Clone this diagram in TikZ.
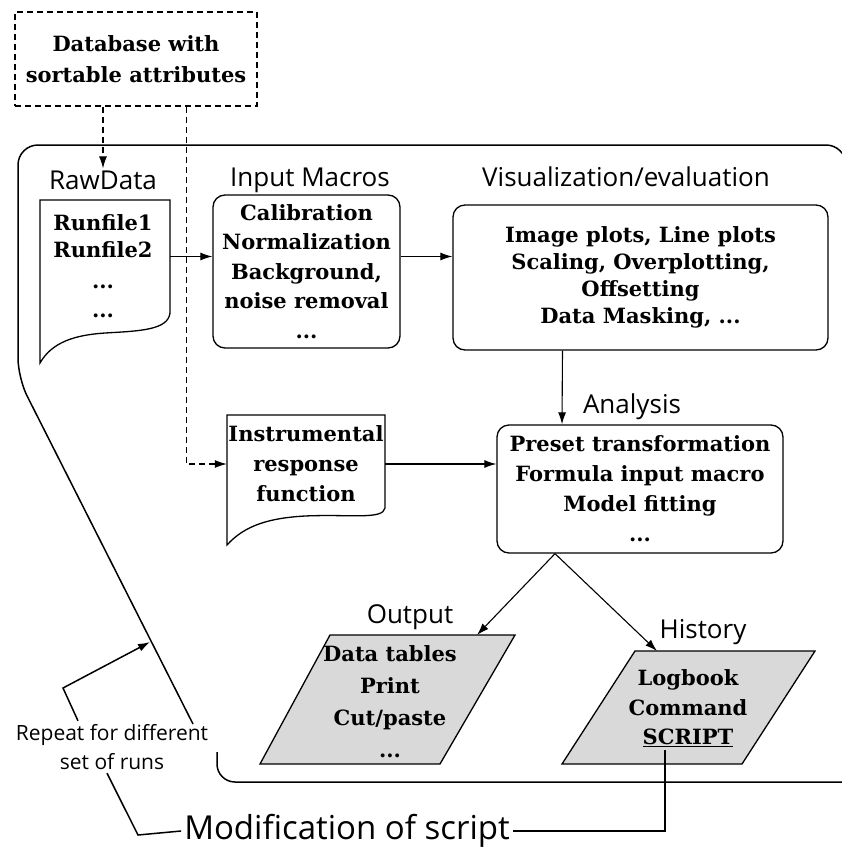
\documentclass[tikz,border=0pt]{standalone}
\usepackage{fontspec}
\setmainfont{DejaVu Serif}
\newfontfamily\lblfont{Open Sans}
\usetikzlibrary{arrows.meta}
\tikzset{
  boxtxt/.style={font=\bfseries\fontsize{21}{29.5}\selectfont, align=center},
  lbl/.style={font=\lblfont\fontsize{26}{30}\selectfont, inner sep=2pt},
  rbox/.style={draw, line width=1.3pt, rounded corners=12pt, inner sep=0pt},
  plainbox/.style={inner sep=0pt},
  shp/.style={draw, line width=1.3pt},
  para/.style={draw, line width=1.3pt, fill=black!15},
  arr/.style={-{Latex[length=12pt,width=8pt]}, line width=1.1pt},
  dsh/.style={dash pattern=on 6pt off 4pt, line width=1.2pt},
  frame/.style={line width=1.5pt},
}
\begin{document}
\begin{tikzpicture}[x=1pt,y=-1pt]
\useasboundingbox (0,0) rectangle (842,854);

% outer frame
\draw[frame, rounded corners=20pt] (193,724) -- (18,378) -- (18,145) -- (846,145) -- (846,220);
\draw[frame, rounded corners=18pt] (217,752) |- (846,782);

% database
\node[draw, dsh, minimum width=242pt, minimum height=94pt, boxtxt, font=\bfseries\fontsize{21}{31}\selectfont] (db) at (136,59) {Database with\\sortable attributes};

% labels
\node[lbl] (rawlbl) at (103,180) {RawData};
\node[lbl] (inlbl) at (310,180) {Input Macros};
\node[lbl] (vislbl) at (626,177) {Visualization/evaluation};
\node[lbl] (anlbl) at (632,407) {Analysis};
\node[lbl] (outlbl) at (410,617) {Output};
\node[lbl] (histlbl) at (703,632) {History};

% RawData document
\node[plainbox, minimum width=130pt, minimum height=113pt] (raw) at (105,256.5) {};
\draw[shp] (40,363) -- (40,200) -- (170,200) -- (170,313)
  .. controls (168,330) and (140,331) .. (105,333)
  .. controls (75,335) and (52,342) .. (40,363) -- cycle;
\node[boxtxt, text width=130pt, font=\bfseries\fontsize{21}{27}\selectfont] (rawtxt) at (103,266) {Runfile1\\Runfile2\\[4pt]...\\[2pt]...};

% Input macros
\node[rbox, minimum width=187pt, minimum height=153pt, boxtxt] (input) at (306.5,271.5)
  {Calibration\\Normalization\\Background,\\noise removal\\...};

% Visualization
\node[rbox, minimum width=375pt, minimum height=145pt, boxtxt, font=\bfseries\fontsize{21}{27}\selectfont] (vis) at (640.5,277.5)
  {Image plots, Line plots\\Scaling, Overplotting,\\Offsetting\\Data Masking, ...};

% Instrumental response document
\node[plainbox, minimum width=158pt, minimum height=93pt, boxtxt, font=\bfseries\fontsize{21}{30}\selectfont] (instr) at (306,464)
  {Instrumental\\response\\function};
\draw[shp] (227,545) -- (227,415) -- (385,415) -- (385,508)
  .. controls (383,520) and (350,514) .. (305,516)
  .. controls (270,518) and (245,525) .. (227,545) -- cycle;

% Analysis
\node[rbox, minimum width=286pt, minimum height=128pt, boxtxt, font=\bfseries\fontsize{21}{30}\selectfont] (analysis) at (640,489)
  {Preset transformation\\Formula input macro\\Model fitting\\...};

% Output parallelogram
\draw[para] (330,635) -- (515,635) -- (440,764) -- (260,764) -- cycle;
\node[boxtxt, font=\bfseries\fontsize{21}{32}\selectfont] (outtxt) at (390,702)
  {Data tables\\Print\\Cut/paste\\...};
\coordinate (outtop) at (477,635);

% History parallelogram
\draw[para] (635,651) -- (815,651) -- (742,764) -- (562,764) -- cycle;
\node[boxtxt, font=\bfseries\fontsize{21}{30}\selectfont] (histtxt) at (688,693) {Logbook\\Command};
\node[boxtxt] (hscript) at (688,738) {\underline{SCRIPT}};
\coordinate (histtop) at (657,651);

% Repeat and modification
\node[font=\lblfont\fontsize{21}{29}\selectfont, align=center] (rep) at (112,747) {Repeat for different\\set of runs};
\node[font=\lblfont\fontsize{33}{38}\selectfont, inner sep=3pt] (mod) at (347,831) {Modification of script};
\coordinate (reptip) at (150,642);
\coordinate (bk1) at (63,688);
\coordinate (bk2) at (138,835);

% connectors
\draw[dsh, arr] (db.south -| rawlbl.north) -- (rawlbl.north);
\draw[dsh, arr] ([xshift=172pt]db.south west) |- (instr.west);
\draw[arr] (raw.east) -- (raw.east -| input.west);
\draw[arr] (input.east |- raw.east) -- (vis.west |- raw.east);
\draw[arr] ([xshift=-78pt]vis.south) -- ([xshift=-78pt]analysis.north);
\draw[arr] (instr.east) -- (instr.east -| analysis.west);
\draw[arr] ([xshift=-85pt]analysis.south) -- (outtop);
\draw[arr] ([xshift=-85pt]analysis.south) -- (histtop);
\draw[line width=1.3pt] ([xshift=-23pt]hscript.south) |- (mod.east);
\draw[arr, line width=1.5pt] ([xshift=-34pt]rep.north) -- (bk1) -- (reptip);
\draw[line width=1.5pt] ([xshift=-5pt]rep.south) -- (bk2) -- (mod.west);
\end{tikzpicture}
\end{document}
